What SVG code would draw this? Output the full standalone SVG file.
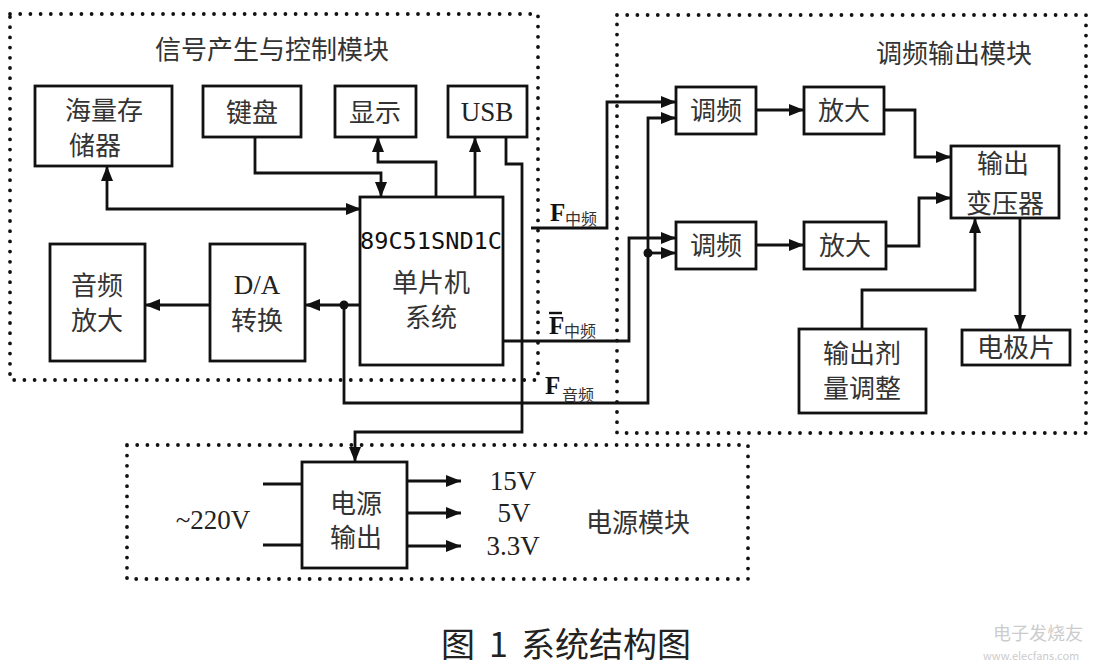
<svg xmlns="http://www.w3.org/2000/svg" width="1103" height="669" viewBox="0 0 1103 669">
<style>
.box{fill:#fff;stroke:#111;stroke-width:2.8}
.dot{fill:none;stroke:#111;stroke-width:3.8;stroke-dasharray:0 10.2;stroke-linecap:round}
.ln{fill:none;stroke:#111;stroke-width:2.8}
.arr{marker-end:url(#ah)}
.t{font-family:"Liberation Serif","Noto Sans CJK SC",serif;font-size:27px;fill:#222;text-anchor:middle}
.cn{font-family:"Noto Sans CJK SC","Liberation Serif",serif;font-size:26px;fill:#333;text-anchor:middle}
.sub{font-family:"Noto Sans CJK SC",sans-serif;font-size:16px;fill:#333}
.F{font-family:"Liberation Serif",serif;font-size:25px;font-weight:bold;fill:#111}
</style>
<defs>
<marker id="ah" markerUnits="userSpaceOnUse" markerWidth="16" markerHeight="12" refX="15" refY="6" orient="auto-start-reverse">
<path d="M0,0 L15,6 L0,12 z" fill="#111"/>
</marker>
</defs>
<rect width="1103" height="669" fill="#fff"/>

<g id="module-signal">
<rect class="dot" x="10" y="14" width="528" height="366"/>
<text class="cn" x="272" y="59" font-size="28">信号产生与控制模块</text>
</g>
<g id="module-fm">
<rect class="dot" x="617" y="15" width="469" height="418"/>
<text class="cn" x="954" y="63" font-size="27">调频输出模块</text>
</g>
<g id="module-power">
<rect class="dot" x="127" y="445" width="621" height="134"/>
<text class="cn" x="638" y="532" font-size="27">电源模块</text>
</g>

<g id="connectors">
<path class="ln arr" style="marker-start:url(#ah)" d="M107,166 V209 H361"/>
<path class="ln arr" d="M255,137 V173 H381 V197"/>
<path class="ln arr" d="M436,197 V162 H378 V137"/>
<path class="ln arr" d="M475,197 V137"/>
<path class="ln arr" d="M506,137 V164 H522 V432 H355 V462"/>
<path class="ln arr" d="M361,305 H305"/>
<path class="ln arr" d="M210,305 H145"/>
<path class="ln arr" d="M344,305 V403 H648 V118 H676"/>
<path class="ln arr" d="M648,253 H676"/>
<circle cx="344" cy="305" r="4.5" fill="#111"/>
<circle cx="648" cy="253" r="4.5" fill="#111"/>
<path class="ln arr" d="M531,228 H607 V102 H676"/>
<path class="ln arr" d="M503,341 H629 V238 H676"/>
<path class="ln arr" d="M756,110 H804"/>
<path class="ln arr" d="M756,245 H804"/>
<path class="ln arr" d="M884,110 H915 V157 H951"/>
<path class="ln arr" d="M886,246 H919 V198 H951"/>
<path class="ln arr" d="M862,329 V290 H975 V218"/>
<path class="ln arr" d="M1020,218 V330"/>
<path class="ln" d="M263,484 H302 M263,545 H302"/>
<path class="ln arr" d="M407,481 H461"/>
<path class="ln arr" d="M407,513 H461"/>
<path class="ln arr" d="M407,546 H461"/>
</g>

<g id="labels">
<text class="F" x="550" y="221">F</text><text class="sub" x="565" y="225">中频</text>
<text class="F" x="549" y="334">F</text><text class="sub" x="564" y="337">中频</text>
<path d="M549,313 H562" stroke="#111" stroke-width="2.4"/>
<text class="F" x="545" y="394">F</text><text class="sub" x="562" y="401">音频</text>
<text class="t" x="213" y="529">~220V</text>
<text class="t" x="513" y="490">15V</text>
<text class="t" x="514" y="522">5V</text>
<text class="t" x="513" y="555">3.3V</text>
</g>

<g id="n-storage"><rect class="box" x="35" y="86" width="137" height="80"/>
<text class="cn" x="104" y="120">海量存</text><text class="cn" x="95" y="155">储器</text></g>
<g id="n-keyboard"><rect class="box" x="203" y="86" width="98" height="51"/><text class="cn" x="252" y="122">键盘</text></g>
<g id="n-display"><rect class="box" x="335" y="86" width="81" height="51"/><text class="cn" x="375" y="122">显示</text></g>
<g id="n-usb"><rect class="box" x="448" y="86" width="79" height="51"/><text class="t" x="487" y="121">USB</text></g>
<g id="n-mcu"><rect class="box" x="360" y="197" width="143" height="168"/>
<text x="431" y="249" text-anchor="middle" font-family="DejaVu Sans Mono,Liberation Mono,monospace" font-size="23" fill="#111" textLength="142" lengthAdjust="spacingAndGlyphs">89C51SND1C</text>
<text class="cn" x="431" y="292">单片机</text><text class="cn" x="431" y="327">系统</text></g>
<g id="n-audioamp"><rect class="box" x="50" y="244" width="95" height="117"/>
<text class="cn" x="97" y="295">音频</text><text class="cn" x="97" y="330">放大</text></g>
<g id="n-da"><rect class="box" x="210" y="244" width="95" height="117"/>
<text class="t" x="257" y="294">D/A</text><text class="cn" x="257" y="330">转换</text></g>
<g id="n-fm1"><rect class="box" x="676" y="87" width="80" height="47"/><text class="cn" x="716" y="120">调频</text></g>
<g id="n-amp1"><rect class="box" x="804" y="87" width="80" height="47"/><text class="cn" x="844" y="120">放大</text></g>
<g id="n-fm2"><rect class="box" x="676" y="222" width="80" height="47"/><text class="cn" x="716" y="255">调频</text></g>
<g id="n-amp2"><rect class="box" x="804" y="222" width="82" height="47"/><text class="cn" x="845" y="255">放大</text></g>
<g id="n-transformer"><rect class="box" x="951" y="146" width="108" height="72"/>
<text class="cn" x="1003" y="173">输出</text><text class="cn" x="1005" y="213">变压器</text></g>
<g id="n-electrode"><rect class="box" x="962" y="330" width="108" height="35"/><text class="cn" x="1016" y="357">电极片</text></g>
<g id="n-dose"><rect class="box" x="799" y="329" width="127" height="84"/>
<text class="cn" x="862" y="363">输出剂</text><text class="cn" x="862" y="398">量调整</text></g>
<g id="n-power"><rect class="box" x="302" y="462" width="105" height="106"/>
<text class="cn" x="356" y="513">电源</text><text class="cn" x="356" y="547">输出</text></g>

<text font-family="Noto Sans CJK SC,Liberation Serif,serif" font-size="34" fill="#222" x="441" y="657">图<tspan x="489">1</tspan><tspan x="521">系统结构图</tspan></text>
<g id="watermark" fill="#ccc" font-family="Noto Sans CJK SC,sans-serif">
<text x="993" y="640" font-size="18">电子发烧友</text>
<text x="983" y="660" font-size="11">www.elecfans.com</text>
</g>
</svg>
